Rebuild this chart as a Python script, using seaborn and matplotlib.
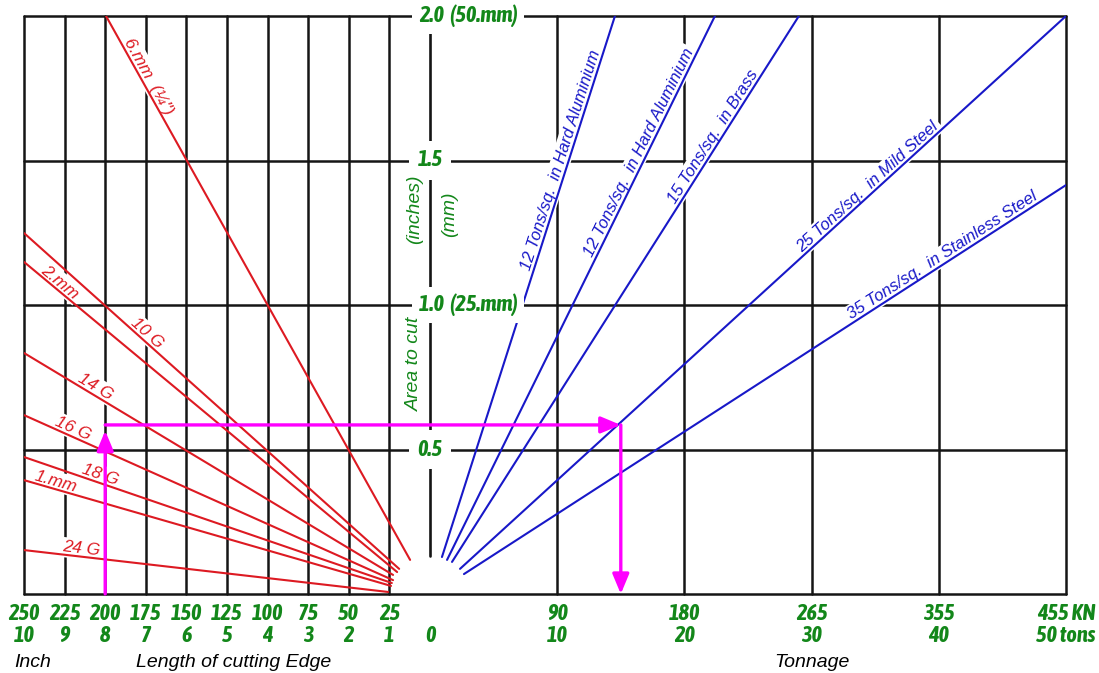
import numpy as np
import pandas as pd
import matplotlib.pyplot as plt
import seaborn as sns
from matplotlib import font_manager as fm

sns.set_theme(style="white")
plt.rcParams['font.family'] = ['Liberation Sans', 'DejaVu Sans']


# narrow bold-italic face for the green scale numbers, if one is installed
def _wt(w):
    return w if isinstance(w, int) else {'bold': 700, 'heavy': 800, 'black': 900}.get(w, 400)


faces = fm.fontManager.ttflist
cands = ['Liberation Sans Narrow', 'Arial Narrow', 'Archivo Narrow', 'Asap Condensed',
         'Fira Sans Condensed', 'IBM Plex Sans Condensed', 'Barlow Semi Condensed',
         'Roboto Condensed', 'Encode Sans Condensed', 'PT Sans Narrow']
NARROW = next((n for n in cands if any(f.name == n and _wt(f.weight) >= 700
                                       and f.style == 'italic' for f in faces)), None)
if NARROW is None:
    NARROW = next((n for n in cands if any(f.name == n and _wt(f.weight) >= 700
                                           for f in faces)), 'Liberation Sans')
NUM_SIZE = 16 if NARROW != 'Liberation Sans' else 13

# ---- values ----
# left half: length of cutting edge (inch) -> area to cut (sq. inch)
thick_labels = ['6.mm  (¼")', '10 G', '2.mm', '14 G', '16 G', '18 G', '1.mm', '24 G']
thick_len0 = [7.98, 10, 10, 10, 10, 10, 10, 10]
thick_area0 = [2.0, 1.249, 1.149, 0.834, 0.619, 0.474, 0.394, 0.152]
thick_len1 = [0.49, 0.76, 0.81, 0.91, 0.91, 0.94, 0.96, 1.03]
thick_area1 = [0.118, 0.087, 0.076, 0.066, 0.048, 0.038, 0.028, 0.007]
thick_label_at = [7.09, 7.1, 9.23, 8.33, 8.88, 8.18, 9.26, 8.6]

# right half: area to cut -> tonnage, per material
mat_labels = ['12 Tons/sq.  in Hard Aluminium', '12 Tons/sq.  in Hard Aluminium',
              '15 Tons/sq.  in Brass', '25 Tons/sq.  in Mild Steel',
              '35 Tons/sq.  in Stainless Steel']
mat_ton0 = [0.94, 1.34, 1.73, 2.36, 2.67]
mat_area0 = [0.128, 0.118, 0.111, 0.087, 0.069]
mat_ton1 = [14.54, 22.4, 29.0, 50, 50]
mat_area1 = [2.0, 2.0, 2.0, 2.0, 1.415]
mat_label_at = [10.85, 16.98, 22.8, 34.83, 40.64]

inch_ticks = [10, 9, 8, 7, 6, 5, 4, 3, 2, 1]
mm_ticks = ['250', '225', '200', '175', '150', '125', '100', '75', '50', '25']
ton_ticks = [10, 20, 30, 40, 50]
ton_labels = ['10', '20', '30', '40', '50 tons']
kn_labels = ['90', '180', '265', '355', '455 KN']
area_ticks = [0.5, 1.0, 1.5, 2.0]
area_labels = ['0.5', '1.0  (25.mm)', '1.5', '2.0  (50.mm)']

# worked example: 8 in of 14 G -> ~0.585 sq.in -> 15 tons
ex_len, ex_area, ex_ton = 8, 0.585, 15

RED = '#dd1a22'
BLUE = '#1818c8'
GREEN = '#13871a'
MAG = '#ff00ff'
INK = '#151515'
TON = 636 / 40.6 / 50   # width of one ton in inch units of the left scale


def tx(t):
    return np.asarray(t, dtype=float) * TON


fig = plt.figure(figsize=(10.99, 6.73), dpi=100)
ax = fig.add_axes([24 / 1099, 1 - 594 / 673, 1042 / 1099, 578 / 673])

# grid
for v in inch_ticks:
    ax.axvline(-v, color=INK, lw=1.8, zorder=1, clip_on=False)
for t in ton_ticks:
    ax.axvline(tx(t), color=INK, lw=1.8, zorder=1, clip_on=False)
for a in [0] + area_ticks:
    ax.axhline(a, color=INK, lw=1.8, zorder=1, clip_on=False)
ax.plot([0, 0], [0.13, 2.0], color=INK, lw=1.9, zorder=1)

# lines
left = pd.DataFrame({
    'x': [-v for v in thick_len0] + [-v for v in thick_len1],
    'y': thick_area0 + thick_area1,
    'name': thick_labels * 2,
})
right = pd.DataFrame({
    'x': list(tx(mat_ton0)) + list(tx(mat_ton1)),
    'y': mat_area0 + mat_area1,
    'name': [f'{i}' for i in range(len(mat_labels))] * 2,
})
sns.lineplot(data=left, x='x', y='y', units='name', estimator=None, sort=False,
             color=RED, lw=1.5, ax=ax, zorder=3, legend=False)
sns.lineplot(data=right, x='x', y='y', units='name', estimator=None, sort=False,
             color=BLUE, lw=1.5, ax=ax, zorder=3, legend=False)
ax.set_xlim(-10, 50 * TON)
ax.set_ylim(0, 2.0)
ax.set_axis_off()

box = dict(facecolor='white', edgecolor='none', boxstyle='square,pad=0.15')


def line_label(x0, y0, x1, y1, xa, text, color, size):
    p0 = ax.transData.transform((x0, y0))
    p1 = ax.transData.transform((x1, y1))
    ang = np.degrees(np.arctan2(p1[1] - p0[1], p1[0] - p0[0]))
    ya = np.interp(xa, sorted([x0, x1]), [y0, y1] if x0 < x1 else [y1, y0])
    ax.text(xa, ya, text, rotation=ang, rotation_mode='anchor', ha='center',
            va='bottom', color=color, fontsize=size, style='italic',
            bbox=box, zorder=2)


for i, lab in enumerate(thick_labels):
    line_label(-thick_len0[i], thick_area0[i], -thick_len1[i], thick_area1[i],
               -thick_label_at[i], lab, RED, 12.5)
for i, lab in enumerate(mat_labels):
    line_label(tx(mat_ton0[i]), mat_area0[i], tx(mat_ton1[i]), mat_area1[i],
               tx(mat_label_at[i]), lab, BLUE, 12)

# centre scale labels
num_font = dict(color=GREEN, fontsize=NUM_SIZE, fontweight='bold', style='italic',
                family=[NARROW, 'Liberation Sans'])
for a, lab in zip(area_ticks, area_labels):
    if '(' in lab:
        ax.text(-0.27, a, lab, ha='left', va='center', zorder=5,
                bbox=dict(facecolor='white', edgecolor='none', boxstyle='square,pad=0.3'),
                **num_font)
    else:
        ax.text(0, a, lab, ha='center', va='center', zorder=5,
                bbox=dict(facecolor='white', edgecolor='none', boxstyle='square,pad=0.4'),
                **num_font)
side_font = dict(rotation=90, ha='center', va='center', color=GREEN, fontsize=14,
                 style='italic', zorder=6)
ax.text(-0.37, 1.33, '(inches)', **side_font)
ax.text(0.49, 1.315, '(mm)', **side_font)
ax.text(-0.39, 0.795, 'Area to cut', **side_font)

# worked example arrows
arr = dict(arrowstyle='-|>,head_length=0.6,head_width=0.25', color=MAG, lw=2.4,
           shrinkA=0, shrinkB=0, mutation_scale=20)
ax.annotate('', xy=(-ex_len, ex_area - 0.02), xytext=(-ex_len, 0),
            arrowprops=arr, zorder=4, annotation_clip=False)
ax.annotate('', xy=(tx(ex_ton), ex_area), xytext=(-ex_len, ex_area),
            arrowprops=arr, zorder=4)
ax.annotate('', xy=(tx(ex_ton), 0), xytext=(tx(ex_ton), ex_area),
            arrowprops=arr, zorder=4, annotation_clip=False)

# bottom scales
xt = ax.get_xaxis_transform()
tick_font = dict(num_font, ha='center', va='baseline', transform=xt)
for v, mm in zip(inch_ticks, mm_ticks):
    ax.text(-v, -0.045, mm, **tick_font)
    ax.text(-v, -0.083, str(v), **tick_font)
ax.text(0, -0.083, '0', **tick_font)
for t, kn, tl in zip(ton_ticks, kn_labels, ton_labels):
    ax.text(tx(t), -0.045, kn, **tick_font)
    ax.text(tx(t), -0.083, tl, **tick_font)

cap_font = dict(color='black', fontsize=14, style='italic', va='baseline', transform=xt)
ax.text(-10.25, -0.126, 'Inch', ha='left', **cap_font)
ax.text(-7.24, -0.126, 'Length of cutting Edge', ha='left', **cap_font)
ax.text(9.41, -0.126, 'Tonnage', ha='center', **cap_font)

fig.savefig('out.png', dpi=100)
